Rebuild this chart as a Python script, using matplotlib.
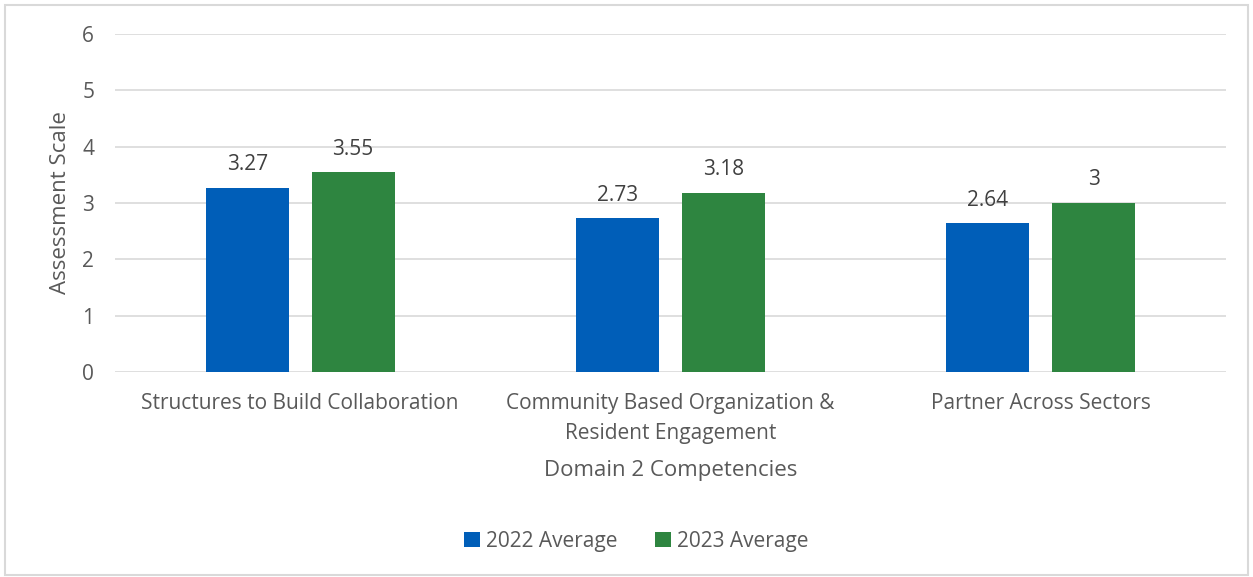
import numpy as np
import matplotlib.pyplot as plt
from matplotlib.patches import Rectangle

# chart data
categories = ["Structures to Build Collaboration",
              "Community Based Organization &\nResident Engagement",
              "Partner Across Sectors"]
avg_2022 = [3.27, 2.73, 2.64]
avg_2023 = [3.55, 3.18, 3]
labels_2022 = ["3.27", "2.73", "2.64"]
labels_2023 = ["3.55", "3.18", "3"]
series_names = ["2022 Average", "2023 Average"]

BLUE = "#005EB8"
GREEN = "#2E8540"
TEXT = "#595959"

plt.rcParams['font.family'] = ['Open Sans', 'DejaVu Sans']

fig = plt.figure(figsize=(12.53, 5.77), dpi=100)
ax = fig.add_axes([0.0918, 0.3553, 0.8867, 0.5858])

x = np.arange(len(categories))
w = 0.224
off = 0.143
b1 = ax.bar(x - off, avg_2022, w, color=BLUE, label=series_names[0], zorder=3)
b2 = ax.bar(x + off, avg_2023, w, color=GREEN, label=series_names[1], zorder=3)

for bars, labs in ((b1, labels_2022), (b2, labels_2023)):
    for r, lab in zip(bars, labs):
        ax.annotate(lab, (r.get_x() + r.get_width() / 2, r.get_height()),
                    xytext=(0, 9), textcoords="offset points",
                    ha="center", va="bottom", fontsize=15, color="#404040")

ax.set_xlim(-0.5, 2.5)
ax.set_ylim(0, 6)
ax.set_yticks(range(7))
ax.yaxis.grid(True, color="#D9D9D9", linewidth=1.2, zorder=0)
ax.set_xticks(x)
ax.set_xticklabels(categories, fontsize=15, color=TEXT, linespacing=1.6)
ax.tick_params(axis="both", length=0, labelsize=15, colors=TEXT)
ax.tick_params(axis="x", pad=15)
ax.tick_params(axis="y", pad=15)
for s in ax.spines.values():
    s.set_visible(False)

ax.set_ylabel("Assessment Scale", fontsize=16, color=TEXT, labelpad=8)
ax.set_xlabel("Domain 2 Competencies", fontsize=16, color=TEXT, labelpad=11)

fig.legend(handles=[b1, b2], loc="center", bbox_to_anchor=(0.508, 0.062),
           ncol=2, frameon=False, fontsize=15, labelcolor=TEXT,
           handlelength=0.75, handleheight=0.75, handletextpad=0.3,
           columnspacing=1.8)

fig.patches.append(Rectangle((0.004, 0.004), 0.992, 0.988, transform=fig.transFigure,
                             fill=False, edgecolor="#D9D9D9", linewidth=1.5))

fig.savefig("out.png", dpi=100)
